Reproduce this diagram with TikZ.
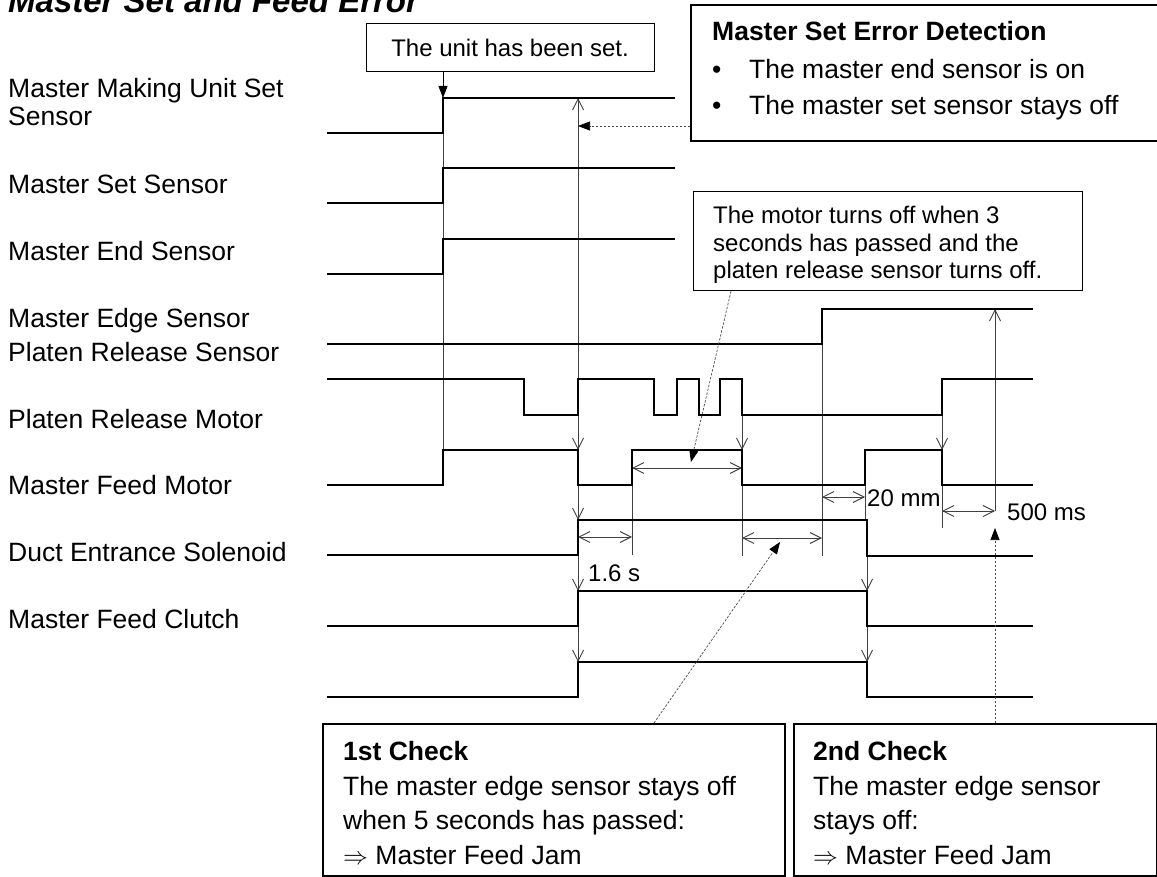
\documentclass[tikz,border=0pt]{standalone}
\usepackage{fontspec}
\setmainfont{Liberation Sans}
\usetikzlibrary{arrows.meta}
\newcommand{\fLab}{\fontsize{26.5}{28}\selectfont}
\newcommand{\fSm}{\fontsize{24}{27.5}\selectfont}
\newcommand{\fTtl}{\fontsize{33}{36}\selectfont\bfseries\itshape}
\begin{document}
\begin{tikzpicture}[x=1pt,y=-1pt,
  sig/.style={line width=2pt, line join=miter, black},
  guide/.style={line width=0.9pt, black!75},
  sb/.tip={Straight Barb[length=11pt,width=11pt,line width=0.9pt]},
  dim/.style={guide, sb-sb},
  lab/.style={anchor=base west, inner sep=0pt, font=\fLab},
  sml/.style={anchor=base west, inner sep=0pt, font=\fSm},
  boxtxt/.style={anchor=base west, inner sep=0pt, font=\fLab},
  ptrtip/.tip={Triangle[length=12pt,width=9pt,color=black]},
  dotptr/.style={line width=0.7pt, black!70, dash pattern=on 2.5pt off 1.5pt, -ptrtip},
  solidptr/.style={line width=0.9pt, black, -ptrtip}
]
\useasboundingbox (0,0) rectangle (1157,877);

% title
\node[anchor=base west, inner sep=0pt] (title) at (8,13) {\fTtl Master Set and Feed Error};

% signal labels
\node[lab] (l1) at (8,98) {Master Making Unit Set};
\node[lab] (l1b) at (8,126) {Sensor};
\node[lab] (l2) at (8,194) {Master Set Sensor};
\node[lab] (l3) at (8,261) {Master End Sensor};
\node[lab] (l4) at (8,328) {Master Edge Sensor};
\node[lab] (l5) at (8,362) {Platen Release Sensor};
\node[lab] (l6) at (8,428) {Platen Release Motor};
\node[lab] (l7) at (8,494) {Master Feed Motor};
\node[lab] (l8) at (8,561) {Duct Entrance Solenoid};
\node[lab] (l9) at (8,628) {Master Feed Clutch};

% guide lines
\draw[guide] (443,98) -- (443,450);
\draw[guide, sb-sb] (578,98) -- (578,450);
\draw[guide, -sb] (578,485) -- (578,520);
\draw[guide, -sb] (578,555) -- (578,591);
\draw[guide, -sb] (578,626) -- (578,662);
\draw[guide] (632,485) -- (632,555);
\draw[guide, -sb] (742,415) -- (742,450);
\draw[guide] (742,485) -- (742,556);
\draw[guide] (822,343) -- (822,556);
\draw[guide] (865,485) -- (865,520);
\draw[guide, -sb] (867,556) -- (867,591);
\draw[guide, -sb] (867,626) -- (867,662);
\draw[guide, -sb] (942,415) -- (942,450);
\draw[guide] (942,485) -- (942,528);
\draw[guide, sb-] (995,309) -- (995,511);

% dimension arrows
\draw[dim] (578,537) -- (632,537);
\draw[dim] (632,468) -- (742,468);
\draw[dim] (742,538) -- (822,538);
\draw[dim] (822,497) -- (865,497);
\draw[dim] (942,511) -- (995,511);
\node[sml] (d16) at (588,581) {1.6 s};
\node[sml] (d20) at (867,506) {20 mm};
\node[sml] (d500) at (1007,520) {500 ms};

% signals
\draw[sig] (327,133) -- (443,133) -- (443,98) -- (675,98);
\draw[sig] (327,203) -- (443,203) -- (443,168) -- (675,168);
\draw[sig] (327,274) -- (443,274) -- (443,239) -- (675,239);
\draw[sig] (327,344) -- (822,344) -- (822,309) -- (1033,309);
\draw[sig] (327,379) -- (524,379) -- (524,415) -- (578,415) -- (578,379) -- (654,379)
  -- (654,415) -- (677,415) -- (677,379) -- (699,379) -- (699,415) -- (720,415)
  -- (720,379) -- (742,379) -- (742,415) -- (942,415) -- (942,379) -- (1033,379);
\draw[sig] (327,485) -- (443,485) -- (443,450) -- (578,450) -- (578,485) -- (632,485)
  -- (632,450) -- (742,450) -- (742,485) -- (865,485) -- (865,450) -- (942,450)
  -- (942,485) -- (1033,485);
\draw[sig] (327,555) -- (578,555) -- (578,520) -- (867,520) -- (867,556) -- (1033,556);
\draw[sig] (327,626) -- (578,626) -- (578,591) -- (867,591) -- (867,626) -- (1033,626);
\draw[sig] (327,697) -- (578,697) -- (578,662) -- (867,662) -- (867,697) -- (1033,697);

% callout boxes
\node[draw, line width=1pt, minimum width=288pt, minimum height=48pt, inner sep=0pt, font=\fSm] (unitbox) at (510,48) {The unit has been set.};

\node[draw, line width=2pt, anchor=north west, minimum width=467pt, minimum height=136pt, inner sep=0pt] (msebox) at (690,4) {};
\node[boxtxt, font=\fLab\bfseries] (mseh) at (712,41) {Master Set Error Detection};
\node[boxtxt] (mseb1) at (712,79) {•};
\node[boxtxt] (mset1) at (749,79) {The master end sensor is on};
\node[boxtxt] (mseb2) at (712,115) {•};
\node[boxtxt] (mset2) at (749,115) {The master set sensor stays off};

\node[draw, line width=1.2pt, anchor=north west, minimum width=389pt, minimum height=99pt, inner sep=0pt] (motorbox) at (693,191) {};
\node[sml] (mot1) at (713,224) {The motor turns off when 3};
\node[sml] (mot2) at (713,252) {seconds has passed and the};
\node[sml] (mot3) at (713,279) {platen release sensor turns off.};

\node[draw, line width=1.6pt, anchor=north west, minimum width=462pt, minimum height=152pt, inner sep=0pt] (chk1) at (322,723) {};
\node[boxtxt, font=\fLab\bfseries] (c1h) at (343,760) {1st Check};
\node[boxtxt] (c1a) at (343,795) {The master edge sensor stays off};
\node[boxtxt] (c1b) at (343,829) {when 5 seconds has passed:};
\node[boxtxt] (c1c) at (343,864) {$\Rightarrow$ Master Feed Jam};

\node[draw, line width=1.6pt, anchor=north west, minimum width=363pt, minimum height=152pt, inner sep=0pt] (chk2) at (793,723) {};
\node[boxtxt, font=\fLab\bfseries] (c2h) at (813,760) {2nd Check};
\node[boxtxt] (c2a) at (813,795) {The master edge sensor};
\node[boxtxt] (c2b) at (813,829) {stays off:};
\node[boxtxt] (c2c) at (813,864) {$\Rightarrow$ Master Feed Jam};

% pointers
\coordinate (pUnit) at (443,98);
\draw[solidptr] (unitbox.south -| pUnit) -- (pUnit);
\coordinate (pMSE) at (578,126);
\draw[dotptr] (msebox.west |- pMSE) -- (pMSE);
\coordinate (pMot) at (691,462);
\draw[dotptr] ([xshift=38pt]motorbox.south west) -- (pMot);
\coordinate (pC1) at (780,542);
\draw[dotptr] ([xshift=332pt]chk1.north west) -- (pC1);
\coordinate (pC2) at (995,528);
\draw[dotptr] (chk2.north -| pC2) -- (pC2);
\end{tikzpicture}
\end{document}
